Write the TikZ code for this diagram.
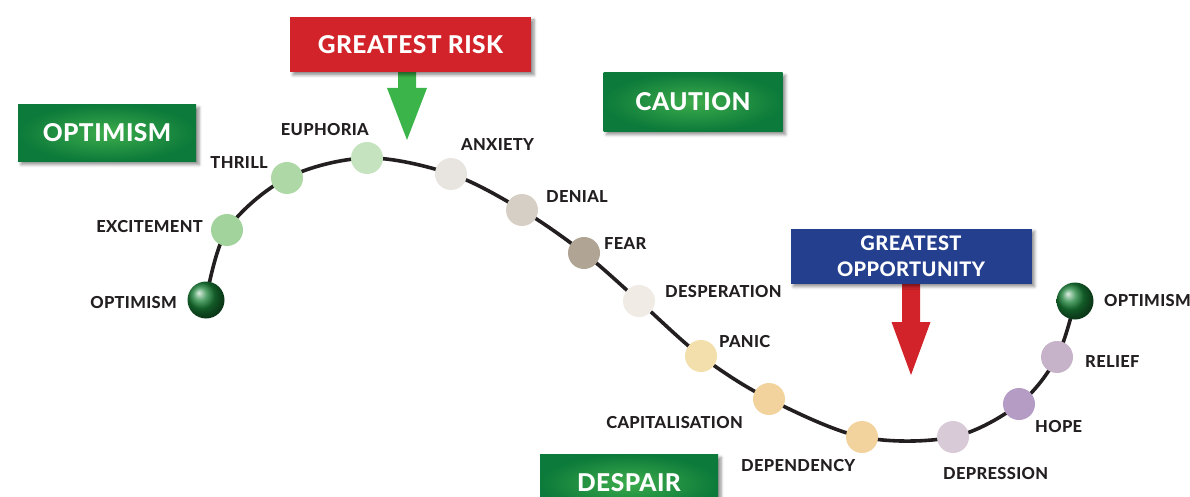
\documentclass[tikz,border=0pt]{standalone}
\usepackage{fontspec}
\setmainfont{Lato}[LetterSpace=2,BoldFont={Lato Heavy}]
\usetikzlibrary{calc,shadows.blur}

\definecolor{curveblack}{HTML}{231F20}
\definecolor{boxgreen}{HTML}{0C7A3A}
\definecolor{boxgreenlight}{HTML}{3DAC4B}
\definecolor{riskred}{HTML}{D2232A}
\definecolor{oppblue}{HTML}{253F8F}
\definecolor{arrowgreen}{HTML}{3BB54A}
\definecolor{ballgreen}{HTML}{1A8238}

\begin{document}
\begin{tikzpicture}[x=1pt,y=-1pt,
  curveline/.style={line width=3.6pt,draw=curveblack,line cap=round},
  stagedot/.style={circle,minimum size=32,inner sep=0pt},
  endball/.style={circle,minimum size=37,inner sep=0pt,shading=ball,ball color=ballgreen},
  stagetext/.style={inner sep=0pt,text=curveblack,font=\bfseries\fontsize{16.5}{18}\selectfont},
  signbox/.style={rectangle,inner sep=0pt,text=white,align=center,
    blur shadow={shadow xshift=3pt,shadow yshift=-3pt,shadow blur radius=3pt,shadow opacity=45}},
  moodbox/.style={signbox,minimum width=178,minimum height=57,
    inner color=boxgreenlight,outer color=boxgreen,font=\bfseries\fontsize{24.5}{28}\selectfont},
]
\useasboundingbox (0,0) rectangle (1190,497);

\coordinate (p0) at (206,300);
\coordinate (p1) at (227,230);
\coordinate (p2) at (287,178);
\coordinate (p3) at (367,158);
\coordinate (p4) at (451,174);
\coordinate (p5) at (522,210);
\coordinate (p6) at (584,253);
\coordinate (p7) at (639,301);
\coordinate (p8) at (701,356);
\coordinate (p9) at (769,399);
\coordinate (p10) at (862,437);
\coordinate (p11) at (953,437);
\coordinate (p12) at (1019,404);
\coordinate (p13) at (1057,357);
\coordinate (p14) at (1075,301);

\draw[curveline] plot[smooth,tension=0.55] coordinates {(p0) (p1) (p2) (p3) (p4) (p5) (p6) (p7)
  (p8) (p9) (p10) (p11) (p12) (p13) (p14)};

\node[endball] (optstart) at (p0) {};
\node[stagedot,fill={rgb,255:red,163;green,211;blue,156}] (excitement) at (p1) {};
\node[stagedot,fill={rgb,255:red,174;green,216;blue,165}] (thrill) at (p2) {};
\node[stagedot,fill={rgb,255:red,198;green,227;blue,192}] (euphoria) at (p3) {};
\node[stagedot,fill={rgb,255:red,232;green,228;blue,223}] (anxiety) at (p4) {};
\node[stagedot,fill={rgb,255:red,213;green,207;blue,197}] (denial) at (p5) {};
\node[stagedot,fill={rgb,255:red,176;green,165;blue,149}] (fear) at (p6) {};
\node[stagedot,fill={rgb,255:red,240;green,235;blue,229}] (desperation) at (p7) {};
\node[stagedot,fill={rgb,255:red,243;green,223;blue,172}] (panic) at (p8) {};
\node[stagedot,fill={rgb,255:red,242;green,211;blue,158}] (capitalisation) at (p9) {};
\node[stagedot,fill={rgb,255:red,242;green,211;blue,158}] (dependency) at (p10) {};
\node[stagedot,fill={rgb,255:red,216;green,202;blue,214}] (depression) at (p11) {};
\node[stagedot,fill={rgb,255:red,180;green,156;blue,196}] (hope) at (p12) {};
\node[stagedot,fill={rgb,255:red,198;green,179;blue,201}] (relief) at (p13) {};
\node[endball] (optend) at (p14) {};

\node[stagetext,anchor=base east] (optstartlbl) at (177,308) {OPTIMISM};
\node[stagetext,anchor=base east] (excitementlbl) at (203,232) {EXCITEMENT};
\node[stagetext,anchor=base east] (thrilllbl) at (268,169) {THRILL};
\node[stagetext,anchor=base east] (euphorialbl) at (369,136) {EUPHORIA};
\node[stagetext,anchor=base west] (anxietylbl) at (461,151) {ANXIETY};
\node[stagetext,anchor=base west] (deniallbl) at (546,202) {DENIAL};
\node[stagetext,anchor=base west] (fearlbl) at (604,249) {FEAR};
\node[stagetext,anchor=base west] (desperationlbl) at (665,297) {DESPERATION};
\node[stagetext,anchor=base west] (paniclbl) at (719,347) {PANIC};
\node[stagetext,anchor=base east] (capitalisationlbl) at (743,428) {CAPITALISATION};
\node[stagetext,anchor=base west] (dependencylbl) at (741,471) {DEPENDENCY};
\node[stagetext,anchor=base west] (depressionlbl) at (943,479) {DEPRESSION};
\node[stagetext,anchor=base west] (hopelbl) at (1035,432) {HOPE};
\node[stagetext,anchor=base west] (relieflbl) at (1085,367) {RELIEF};
\node[stagetext,anchor=base west] (optendlbl) at (1104,306) {OPTIMISM};

\coordinate (risktip) at (407,140);
\fill[arrowgreen] (risktip) -- ++(-20,-52) -- ++(11,0) -- ++(0,-17) -- ++(18,0) -- ++(0,17)
  -- ++(11,0) -- cycle;
\coordinate (opptip) at (911,375);
\fill[riskred] (opptip) -- ++(-19.5,-53) -- ++(10.5,0) -- ++(0,-41) -- ++(18,0) -- ++(0,41)
  -- ++(10.5,0) -- cycle;

\node[moodbox] (optimism) at (107,133) {OPTIMISM};
\node[moodbox,minimum width=179,minimum height=59] (caution) at (693,102) {CAUTION};
\node[moodbox] (despair) at (629,483) {DESPAIR};
\node[signbox,fill=riskred,minimum width=241,minimum height=55,
  font=\bfseries\fontsize{24.5}{28}\selectfont] (risk) at (410.5,44.5) {GREATEST RISK};
\node[signbox,fill=oppblue,minimum width=241,minimum height=55,
  font=\bfseries\fontsize{20}{26}\selectfont] (opportunity) at (911,256) {GREATEST\\OPPORTUNITY};
\end{tikzpicture}
\end{document}
